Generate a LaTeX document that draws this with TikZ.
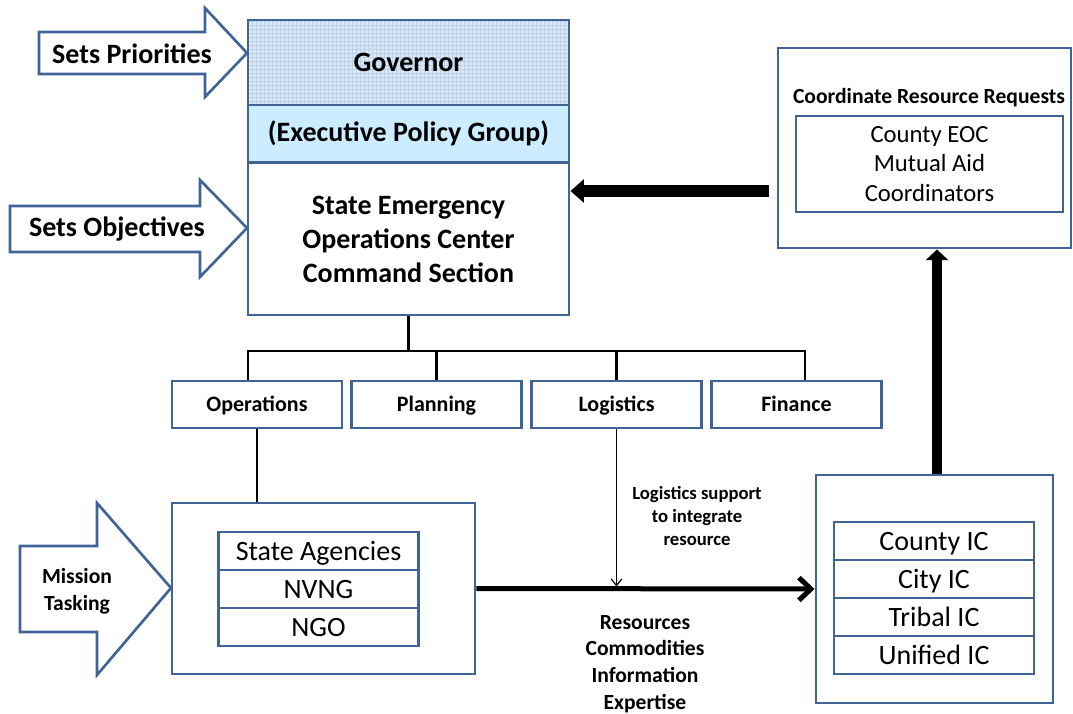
\documentclass[tikz,border=0pt]{standalone}
\usepackage{fontspec}
\setmainfont{Carlito}
\usetikzlibrary{arrows.meta,patterns}
\definecolor{edge}{RGB}{64,100,150}
\definecolor{govfill}{RGB}{218,232,246}
\definecolor{govgrid}{RGB}{188,210,235}
\definecolor{epgfill}{RGB}{204,236,255}

\begin{document}
\begin{tikzpicture}
  [x=0.75pt, y=-0.75pt,
   box/.style={draw=edge, line width=2.2pt, inner sep=0pt, align=center},
   section/.style={box, minimum width=127.5pt, minimum height=35.25pt, text height=11.5pt, text depth=1pt,
                   font=\fontsize{16.5}{20}\selectfont\bfseries},
   row/.style={box, minimum width=149.5pt, minimum height=28.5pt, text height=15pt, text depth=1.5pt,
               font=\fontsize{21}{25}\selectfont},
   blockarrow/.style={draw=edge, line width=2pt, fill=white, line join=miter},
   big/.style={align=center, font=\fontsize{21}{25.5}\selectfont\bfseries},
   note/.style={align=center, font=\fontsize{16.2}{20}\selectfont\bfseries},
   link/.style={line width=1.6pt},
   fat/.style={line width=9pt, -{Triangle[length=10pt,width=17pt]}},
   flow/.style={line width=3.75pt, -{Straight Barb[length=9pt,width=17pt]}}]
  \useasboundingbox (0,0) rectangle (1073,713);

  % input arrows
  \draw[blockarrow] (39,32) -- (205,32) -- (205,8) -- (247,53) -- (205,97) -- (205,74) -- (39,74) -- cycle;
  \draw[blockarrow] (10,206) -- (200,206) -- (200,180) -- (247,228) -- (200,277) -- (200,252) -- (10,252) -- cycle;
  \draw[blockarrow] (20,546) -- (97,546) -- (97,503) -- (171,588) -- (97,675) -- (97,632) -- (20,632) -- cycle;
  \node[big] (prio) at (132,54) {Sets Priorities};
  \node[big] (obj) at (117,229) {Sets Objectives};
  \node[note, font=\fontsize{16.2}{20.25}\selectfont\bfseries] (task) at (77,591) {Mission\\Tasking};

  % command block
  \node[box, big, preaction={fill=govfill}, pattern=grid, pattern color=govgrid,
        minimum width=240.75pt, minimum height=63.75pt] (gov) at (408.5,62.5) {Governor};
  \node[box, big, fill=epgfill, minimum width=240.75pt, minimum height=42.75pt] (epg) at (408.5,133.5)
        {(Executive Policy Group)};
  \node[box, big, fill=white, minimum width=240.75pt, minimum height=114pt] (cmd) at (408.5,239)
        {State Emergency\\Operations Center\\Command Section};

  % sections
  \node[section] (ops) at (257,404.5) {Operations};
  \node[section] (plan) at (436.5,404.5) {Planning};
  \node[section] (log) at (616.5,404.5) {Logistics};
  \node[section] (fin) at (796.5,404.5) {Finance};

  \coordinate (bus) at (0,351);
  \draw[link] (cmd.south) -- (cmd.south |- bus);
  \draw[link] ([xshift=-6.75pt]ops.north) |- ([xshift=6.4pt]fin.north |- bus) -- ([xshift=6.4pt]fin.north);
  \draw[link] (plan.north) -- (plan.north |- bus);
  \draw[link] (log.north) -- (log.north |- bus);

  % mission tasking block
  \node[box, minimum width=227.25pt, minimum height=128.25pt] (mis) at (323.5,588.5) {};
  \node[row] (agen) at (318.5,551) {State Agencies};
  \node[row] (nvng) at (318.5,589) {NVNG};
  \node[row] (ngo) at (318.5,627) {NGO};
  \draw[link] (ops.south) -- (ops.south |- mis.north);

  % incident command block
  \node[box, minimum width=177.75pt, minimum height=171pt] (ic) at (934.5,589) {};
  \node[row, minimum width=150pt] (county) at (934,541) {County IC};
  \node[row, minimum width=150pt] (city) at (934,579) {City IC};
  \node[row, minimum width=150pt] (tribal) at (934,617) {Tribal IC};
  \node[row, minimum width=150pt] (unified) at (934,655) {Unified IC};

  % resource requests block
  \node[box, minimum width=219.75pt, minimum height=150pt] (rr) at (924.5,148) {};
  \node[note] (rrtitle) at (929,98) {Coordinate Resource Requests};
  \node[box, minimum width=200.25pt, minimum height=72pt, font=\fontsize{18.5}{22}\selectfont] (eoc) at (929.5,164)
        {County EOC\\Mutual Aid\\Coordinators};

  % flows
  \draw[flow] (mis.east) -- (ic.west);
  \draw[line width=0.9pt, -{Straight Barb[length=5pt,width=8pt]}, shorten >=1.5pt] (log.south) -- (log.south |- mis.east);
  \node[note, font=\fontsize{14}{17}\selectfont\bfseries] (lsup) at (697,516) {Logistics support\\to integrate\\resource};
  \node[note] (res) at (645,664) {Resources\\Commodities\\Information\\Expertise};

  \coordinate (back) at (0,191);
  \draw[fat, shorten <=6pt] (rr.west |- back) -- (cmd.east |- back);
  \coordinate (up) at (937,0);
  \draw[line width=8pt, -{Triangle[length=8pt,width=16.5pt]}] (ic.north -| up) -- (rr.south -| up);
\end{tikzpicture}
\end{document}
